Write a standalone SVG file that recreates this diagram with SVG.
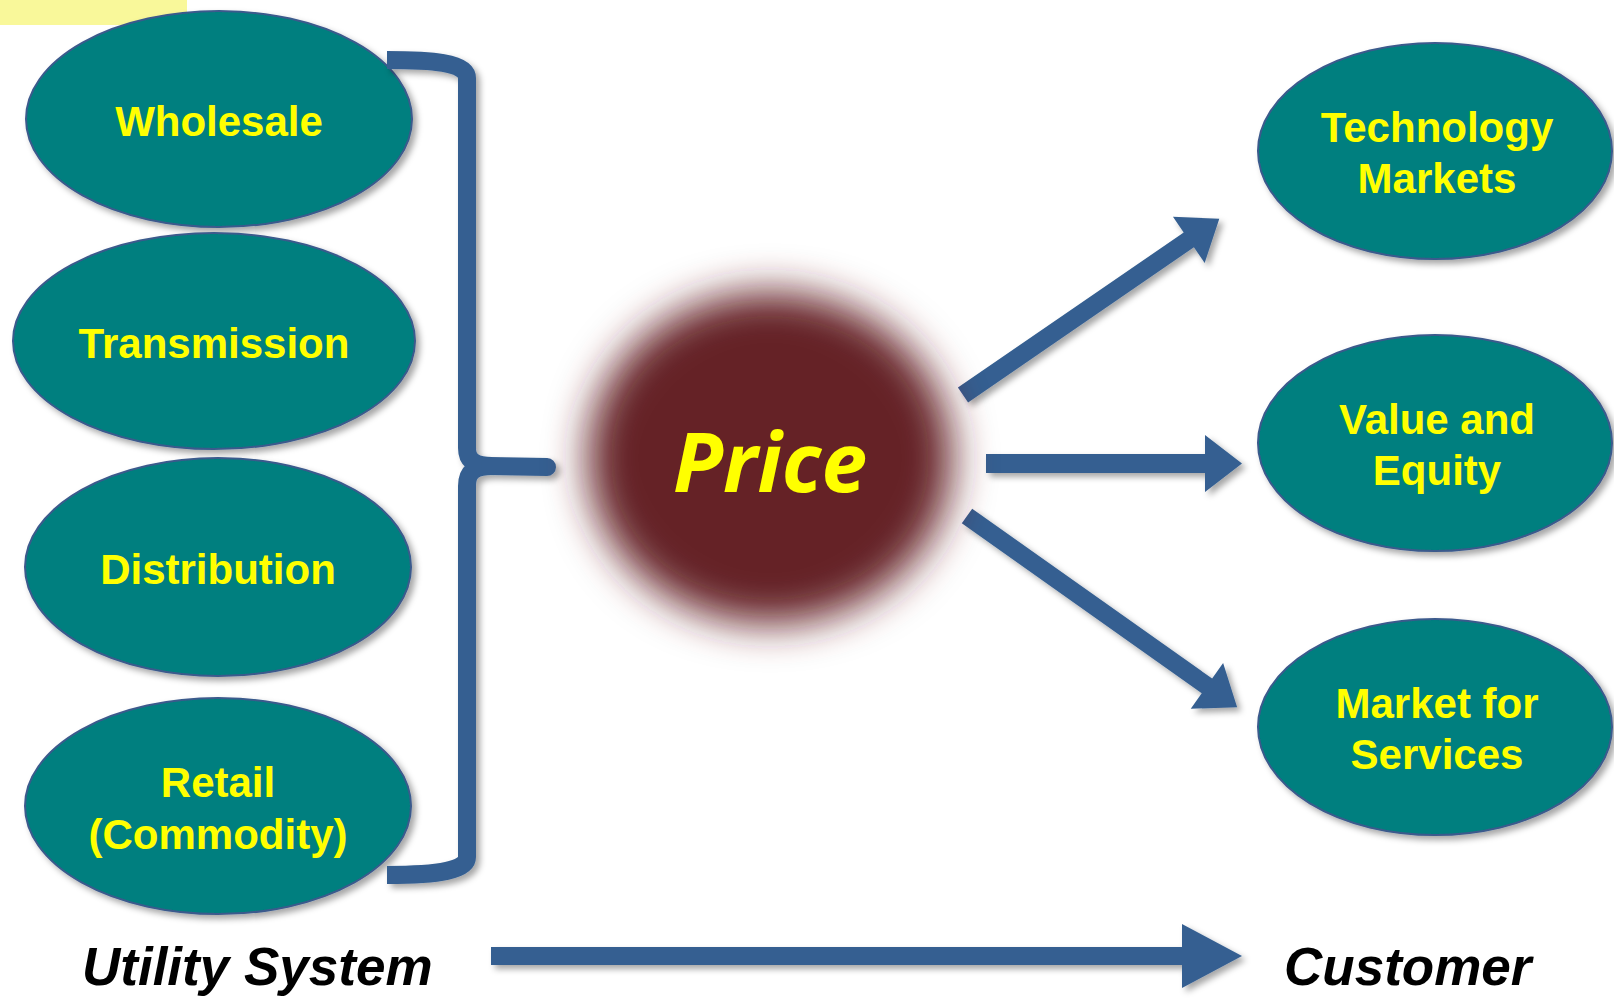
<svg xmlns="http://www.w3.org/2000/svg" width="1614" height="1002" viewBox="0 0 1614 1002">
<style>
.node ellipse{fill:#007f7f;stroke:#3b5a8c;stroke-width:2;filter:url(#sh)}
.lbl{font-family:"Liberation Sans",Arial,sans-serif;font-weight:bold;font-size:42px;fill:#ffff00;text-anchor:middle}
.cap{font-family:"Liberation Sans",Arial,sans-serif;font-weight:bold;font-style:italic;font-size:53px;fill:#000}
.arr{fill:#365f91}
.br{fill:none;stroke:#365f91;stroke-width:18;stroke-linejoin:round}
</style>
<defs>
<filter id="sh" x="-20%" y="-20%" width="140%" height="140%">
<feDropShadow dx="4" dy="4" stdDeviation="3" flood-color="#000" flood-opacity="0.35"/>
</filter>
<filter id="blur" x="-50%" y="-50%" width="200%" height="200%">
<feGaussianBlur stdDeviation="21"/>
</filter>
</defs>
<rect width="1614" height="1002" fill="#ffffff"/>
<rect x="0" y="0" width="187" height="25" fill="#f9f89a"/>

<g id="node-wholesale" class="node">
<ellipse cx="219" cy="119" rx="193" ry="108"/>
<text class="lbl" x="219" y="136">Wholesale</text>
</g>
<g id="node-transmission" class="node">
<ellipse cx="214" cy="341" rx="201" ry="108"/>
<text class="lbl" x="214" y="358">Transmission</text>
</g>
<g id="node-distribution" class="node">
<ellipse cx="218" cy="567" rx="193" ry="109"/>
<text class="lbl" x="218" y="584">Distribution</text>
</g>
<g id="node-retail" class="node">
<ellipse cx="218" cy="806" rx="193" ry="108"/>
<text class="lbl" x="218" y="797">Retail</text>
<text class="lbl" x="218" y="849">(Commodity)</text>
</g>

<g id="node-technology" class="node">
<ellipse cx="1435" cy="151" rx="177" ry="108"/>
<text class="lbl" x="1437" y="142">Technology</text>
<text class="lbl" x="1437" y="193">Markets</text>
</g>
<g id="node-value" class="node">
<ellipse cx="1435" cy="443" rx="177" ry="108"/>
<text class="lbl" x="1437" y="434">Value and</text>
<text class="lbl" x="1437" y="485">Equity</text>
</g>
<g id="node-market" class="node">
<ellipse cx="1435" cy="727" rx="177" ry="108"/>
<text class="lbl" x="1437" y="718">Market for</text>
<text class="lbl" x="1437" y="769">Services</text>
</g>

<g id="connectors" filter="url(#sh)">
<path class="br" stroke-linecap="butt" d="M387,60 C430,60 467,62 467,78 L467,448 C467,460 474,466 492,466 M492,466 C474,466 467,472 467,486 L467,857 C467,870 440,875 387,875"/>
<path class="br" stroke-linecap="round" d="M490,466 L547,467"/>
<polygon class="arr" transform="translate(963,395) rotate(-34.5)" points="0,-9 274,-9 274,-28 311,0 274,28 274,9 0,9"/>
<polygon class="arr" points="986,454 1205,454 1205,435 1242,463.5 1205,492 1205,473 986,473"/>
<polygon class="arr" transform="translate(967,516) rotate(35.3)" points="0,-9 294,-9 294,-28 331,0 294,28 294,9 0,9"/>
<polygon class="arr" points="491,947 1182,947 1182,924 1242,956 1182,988 1182,965 491,965"/>
</g>

<g id="node-price">
<ellipse cx="770" cy="458" rx="182" ry="166" fill="#652427" filter="url(#blur)"/>
<text x="770" y="492" text-anchor="middle" font-family="'Open Sans',sans-serif" font-weight="bold" font-style="italic" font-size="82" fill="#ffff00">Price</text>
</g>

<text class="cap" x="82" y="985">Utility System</text>
<text class="cap" x="1284" y="985">Customer</text>
</svg>
